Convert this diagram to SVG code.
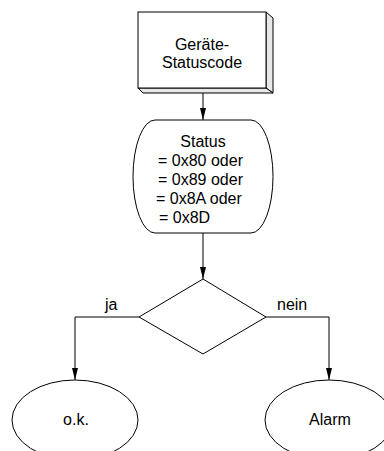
<svg xmlns="http://www.w3.org/2000/svg" width="384" height="451" viewBox="0 0 384 451">
  <style>
    .shape { fill: #ffffff; stroke: #000000; stroke-width: 1; }
    .depth { fill: #e8e8e8; stroke: #000000; stroke-width: 1; stroke-linejoin: round; }
    .wire { fill: none; stroke: #000000; stroke-width: 1; }
    .label { font-family: "Liberation Sans", Arial, sans-serif; font-size: 16px; fill: #000000; }
    .mid { text-anchor: middle; }
  </style>
  <defs>
    <marker id="arrow" markerUnits="userSpaceOnUse" markerWidth="12" markerHeight="7" refX="12" refY="3.5" orient="auto">
      <path d="M0,0.5 L12,3.5 L0,6.5 z" fill="#000000"/>
    </marker>
  </defs>
  <rect width="384" height="451" fill="#ffffff"/>

  <!-- connectors -->
  <g id="connectors">
    <line class="wire" x1="203" y1="93" x2="203" y2="120" marker-end="url(#arrow)"/>
    <line class="wire" x1="203" y1="233" x2="203" y2="279" marker-end="url(#arrow)"/>
    <polyline class="wire" points="139,317 75,317 75,380" marker-end="url(#arrow)"/>
    <polyline class="wire" points="266,317 329,317 329,380" marker-end="url(#arrow)"/>
    <text class="label" x="105" y="310">ja</text>
    <text class="label" x="277" y="310">nein</text>
  </g>

  <!-- source: device status code (3D box) -->
  <g id="statuscode">
    <polygon class="depth" points="266,12 273,18 273,93 266,88"/>
    <polygon class="depth" points="138,88 266,88 273,93 143,93"/>
    <rect class="shape" x="138" y="12" width="128" height="76"/>
    <text class="label mid" x="202" y="50">Geräte-</text>
    <text class="label mid" x="202" y="68">Statuscode</text>
  </g>

  <!-- status condition -->
  <g id="condition">
    <rect class="shape" x="133" y="120" width="140" height="113" rx="22" ry="56.5"/>
    <text class="label mid" x="203" y="147">Status</text>
    <text class="label" x="158" y="166">= 0x80 oder</text>
    <text class="label" x="158" y="185">= 0x89 oder</text>
    <text class="label" x="156" y="204">= 0x8A oder</text>
    <text class="label" x="159" y="223">= 0x8D</text>
  </g>

  <!-- decision -->
  <g id="decision">
    <polygon class="shape" points="203,279 266,317 203,354 139,317"/>
  </g>

  <!-- outcome: ok -->
  <g id="ok">
    <ellipse class="shape" cx="75" cy="420" rx="63" ry="40"/>
    <text class="label mid" x="76" y="425">o.k.</text>
  </g>

  <!-- outcome: alarm -->
  <g id="alarm">
    <ellipse class="shape" cx="329" cy="420" rx="64" ry="40"/>
    <text class="label mid" x="330" y="425">Alarm</text>
  </g>
</svg>
